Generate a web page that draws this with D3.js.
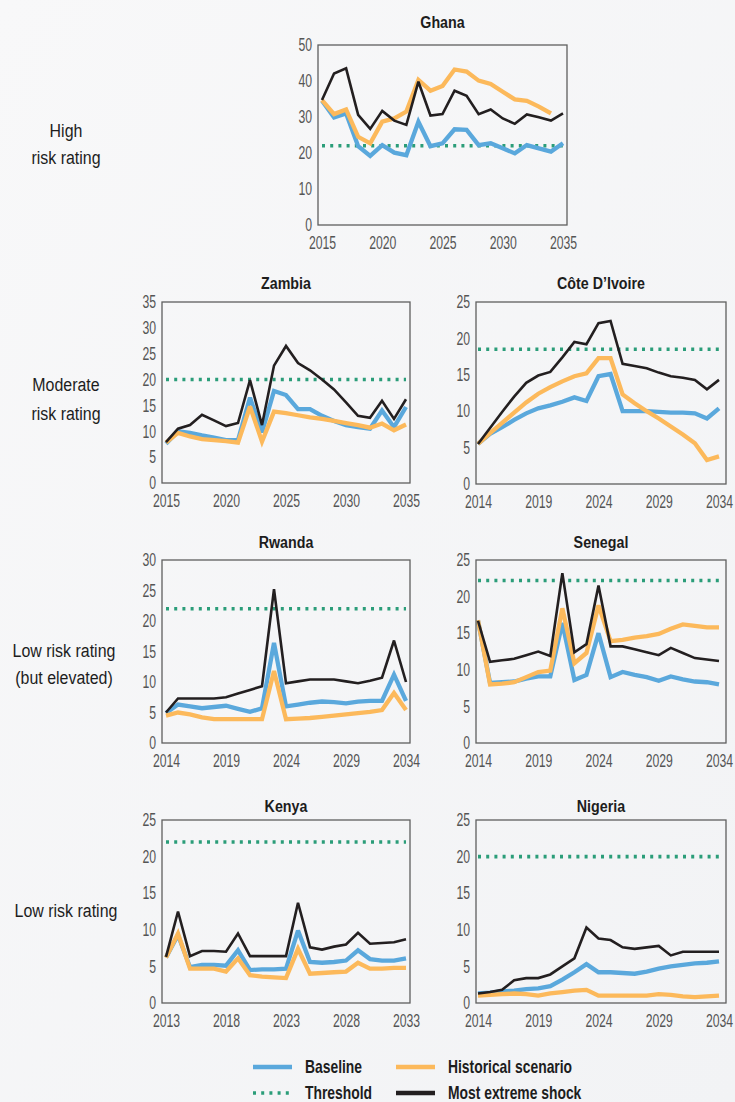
<!DOCTYPE html>
<html>
<head>
<meta charset="utf-8">
<script src="https://cdn.jsdelivr.net/npm/d3@7"></script>
<style>
  html, body { margin: 0; padding: 0; background: #f4f5f7; }
  svg { display: block; }
</style>
</head>
<body>
<script>
// ---------------- DATA ----------------
const ghanaYears = [2015,2016,2017,2018,2019,2020,2021,2022,2023,2024,2025,2026,2027,2028,2029,2030,2031,2032,2033,2034,2035];
const ghanaBaseline   = [34.5,29.9,31.0,21.9,19.2,22.2,20.1,19.4,28.7,21.9,22.7,26.6,26.4,22.2,22.7,21.3,19.9,22.2,21.3,20.4,22.7];
const ghanaHistorical = [34.7,30.8,32.1,24.5,22.7,28.7,29.6,31.5,40.3,37.3,38.6,43.2,42.6,40.1,39.2,37.0,34.9,34.5,32.9,31.0,null];
const ghanaShock      = [34.7,42.1,43.5,30.6,26.7,31.7,29.0,27.8,39.8,30.4,30.8,37.3,35.9,30.8,32.1,29.6,28.1,30.7,29.9,29.0,31.0];
const ghanaThreshold = 22;
const ghanaXTicks = [2015,2020,2025,2030,2035];
const ghanaYTicks = [0,10,20,30,40,50];

const zambiaYears = [2015,2016,2017,2018,2019,2020,2021,2022,2023,2024,2025,2026,2027,2028,2029,2030,2031,2032,2033,2034,2035];
const zambiaBaseline   = [7.6,10.0,9.7,9.2,8.8,8.3,8.3,16.5,9.8,17.8,17.0,14.3,14.3,13.0,12.0,11.2,10.8,10.5,14.0,10.8,14.7];
const zambiaHistorical = [7.8,9.7,9.0,8.5,8.3,8.1,7.8,14.8,8.0,13.8,13.5,13.1,12.7,12.4,12.0,11.6,11.2,10.7,11.5,10.2,11.3];
const zambiaShock      = [7.9,10.5,11.2,13.2,12.1,11.0,11.6,19.9,11.2,22.7,26.5,23.2,21.8,20.0,18.1,15.6,13.0,12.6,15.9,12.4,16.2];
const zambiaThreshold = 20;
const zambiaXTicks = [2015,2020,2025,2030,2035];
const zambiaYTicks = [0,5,10,15,20,25,30,35];

const cdiYears = [2014,2015,2016,2017,2018,2019,2020,2021,2022,2023,2024,2025,2026,2027,2028,2029,2030,2031,2032,2033,2034];
const cdiBaseline   = [5.5,6.9,7.8,8.8,9.7,10.4,10.8,11.3,11.9,11.4,14.8,15.1,10.0,10.0,10.0,9.9,9.8,9.8,9.7,9.0,10.4];
const cdiHistorical = [5.5,7.0,8.4,9.8,11.2,12.4,13.3,14.1,14.8,15.2,17.3,17.3,12.3,11.1,10.0,9.0,7.9,6.8,5.6,3.3,3.8];
const cdiShock      = [5.5,7.7,9.9,12.0,13.9,14.9,15.4,17.4,19.5,19.2,22.1,22.4,16.5,16.2,15.9,15.3,14.8,14.6,14.3,13.0,14.3];
const cdiThreshold = 18.5;
const cdiXTicks = [2014,2019,2024,2029,2034];
const cdiYTicks = [0,5,10,15,20,25];

const rwandaYears = [2014,2015,2016,2017,2018,2019,2020,2021,2022,2023,2024,2025,2026,2027,2028,2029,2030,2031,2032,2033,2034];
const rwandaBaseline   = [4.9,6.3,6.0,5.7,5.9,6.1,5.6,5.1,5.7,16.4,6.0,6.3,6.6,6.8,6.7,6.5,6.8,6.9,6.9,11.2,6.9];
const rwandaHistorical = [4.5,5.0,4.7,4.2,3.9,3.9,3.9,3.9,3.9,11.8,3.9,4.0,4.1,4.3,4.5,4.7,4.9,5.1,5.4,8.2,5.4];
const rwandaShock      = [5.0,7.3,7.3,7.3,7.3,7.5,8.1,8.7,9.3,25.2,9.8,10.1,10.4,10.4,10.4,10.1,9.8,10.2,10.7,16.8,10.0];
const rwandaThreshold = 22;
const rwandaXTicks = [2014,2019,2024,2029,2034];
const rwandaYTicks = [0,5,10,15,20,25,30];

const senegalYears = [2014,2015,2016,2017,2018,2019,2020,2021,2022,2023,2024,2025,2026,2027,2028,2029,2030,2031,2032,2033,2034];
const senegalBaseline   = [16.7,8.2,8.3,8.4,8.8,9.1,9.1,16.4,8.6,9.3,15.0,9.0,9.7,9.3,9.0,8.5,9.1,8.7,8.4,8.3,8.0];
const senegalHistorical = [16.8,8.0,8.1,8.3,9.0,9.7,9.9,18.4,10.9,12.3,18.8,13.9,14.1,14.4,14.6,14.9,15.6,16.2,16.0,15.8,15.8];
const senegalShock      = [16.7,11.1,11.3,11.5,12.0,12.5,11.9,23.2,12.4,13.5,21.5,13.2,13.2,12.8,12.4,12.0,13.0,12.3,11.6,11.4,11.2];
const senegalThreshold = 22.2;
const senegalXTicks = [2014,2019,2024,2029,2034];
const senegalYTicks = [0,5,10,15,20,25];

const kenyaYears = [2013,2014,2015,2016,2017,2018,2019,2020,2021,2022,2023,2024,2025,2026,2027,2028,2029,2030,2031,2032,2033];
const kenyaBaseline   = [6.2,9.3,4.9,5.2,5.2,5.1,7.2,4.5,4.6,4.6,4.7,9.9,5.6,5.5,5.6,5.8,7.2,6.0,5.8,5.8,6.1];
const kenyaHistorical = [6.2,9.5,4.7,4.7,4.7,4.3,6.1,3.8,3.6,3.5,3.4,7.4,4.0,4.1,4.2,4.3,5.5,4.7,4.7,4.8,4.8];
const kenyaShock      = [6.3,12.5,6.4,7.1,7.1,7.0,9.5,6.4,6.4,6.4,6.4,13.7,7.6,7.3,7.7,8.0,9.6,8.1,8.2,8.3,8.7];
const kenyaThreshold = 22;
const kenyaXTicks = [2013,2018,2023,2028,2033];
const kenyaYTicks = [0,5,10,15,20,25];

const nigeriaYears = [2014,2015,2016,2017,2018,2019,2020,2021,2022,2023,2024,2025,2026,2027,2028,2029,2030,2031,2032,2033,2034];
const nigeriaBaseline   = [1.3,1.4,1.6,1.7,1.9,2.0,2.3,3.2,4.2,5.3,4.2,4.2,4.1,4.0,4.3,4.7,5.0,5.2,5.4,5.5,5.7];
const nigeriaHistorical = [1.0,1.1,1.2,1.3,1.2,1.0,1.3,1.5,1.7,1.8,1.0,1.0,1.0,1.0,1.0,1.2,1.1,0.9,0.8,0.9,1.0];
const nigeriaShock      = [1.3,1.5,1.8,3.1,3.4,3.4,3.9,5.0,6.1,10.3,8.8,8.6,7.6,7.4,7.6,7.8,6.5,7.0,7.0,7.0,7.0];
const nigeriaThreshold = 20;
const nigeriaXTicks = [2014,2019,2024,2029,2034];
const nigeriaYTicks = [0,5,10,15,20,25];

const rowLabels = [["High","risk rating"],["Moderate","risk rating"],["Low risk rating","(but elevated)"],["Low risk rating"]];
const legendItems = ["Baseline","Historical scenario","Threshold","Most extreme shock"];

// ---------------- STYLE / LAYOUT ----------------
const W = 735, H = 1102;
const FONT = "'Liberation Sans', Arial, sans-serif";
const C = { base: "#5aa8dc", hist: "#fcb95b", shock: "#231f20", thr: "#2b9d79", box: "#5f5f5f", tick: "#555555", text: "#1d1d1d" };

const svg = d3.select("body").append("svg").attr("width", W).attr("height", H);
const bg = svg.append("defs").append("linearGradient").attr("id", "bg").attr("x1", 0).attr("y1", 0).attr("x2", 1).attr("y2", 1);
bg.append("stop").attr("offset", 0).attr("stop-color", "#f8f8f9");
bg.append("stop").attr("offset", 1).attr("stop-color", "#f2f3f5");
svg.append("rect").attr("width", W).attr("height", H).attr("fill", "url(#bg)");

// horizontally condense a text around its own anchor x
function squeeze(sel, sx) {
  sel.each(function () {
    const t = d3.select(this);
    const x0 = +t.attr("x") || 0;
    t.attr("transform", `translate(${x0},0) scale(${sx},1) translate(${-x0},0)`);
  });
}

const panels = [
  { title: "Ghana", years: ghanaYears, base: ghanaBaseline, hist: ghanaHistorical, shock: ghanaShock, thr: ghanaThreshold, xt: ghanaXTicks, yt: ghanaYTicks,
    box: { x: 318, y: 45, w: 249, h: 180 }, pad: [4, 4], titleY: 28 },
  { title: "Zambia", years: zambiaYears, base: zambiaBaseline, hist: zambiaHistorical, shock: zambiaShock, thr: zambiaThreshold, xt: zambiaXTicks, yt: zambiaYTicks,
    box: { x: 162, y: 302, w: 248, h: 181 }, pad: [4, 4], titleY: 289 },
  { title: "Côte D’Ivoire", years: cdiYears, base: cdiBaseline, hist: cdiHistorical, shock: cdiShock, thr: cdiThreshold, xt: cdiXTicks, yt: cdiYTicks,
    box: { x: 476, y: 302, w: 250, h: 182 }, pad: [2, 7], titleY: 289 },
  { title: "Rwanda", years: rwandaYears, base: rwandaBaseline, hist: rwandaHistorical, shock: rwandaShock, thr: rwandaThreshold, xt: rwandaXTicks, yt: rwandaYTicks,
    box: { x: 162, y: 560, w: 248, h: 183 }, pad: [4, 4], titleY: 548 },
  { title: "Senegal", years: senegalYears, base: senegalBaseline, hist: senegalHistorical, shock: senegalShock, thr: senegalThreshold, xt: senegalXTicks, yt: senegalYTicks,
    box: { x: 476, y: 560, w: 250, h: 183 }, pad: [2, 7], titleY: 548 },
  { title: "Kenya", years: kenyaYears, base: kenyaBaseline, hist: kenyaHistorical, shock: kenyaShock, thr: kenyaThreshold, xt: kenyaXTicks, yt: kenyaYTicks,
    box: { x: 162, y: 820, w: 248, h: 183 }, pad: [4, 4], titleY: 812 },
  { title: "Nigeria", years: nigeriaYears, base: nigeriaBaseline, hist: nigeriaHistorical, shock: nigeriaShock, thr: nigeriaThreshold, xt: nigeriaXTicks, yt: nigeriaYTicks,
    box: { x: 476, y: 820, w: 250, h: 183 }, pad: [2, 7], titleY: 812 }
];

function drawPanel(p) {
  const b = p.box;
  const x = d3.scaleLinear().domain(d3.extent(p.years)).range([b.x + p.pad[0], b.x + b.w - p.pad[1]]);
  const y = d3.scaleLinear().domain([0, d3.max(p.yt)]).range([b.y + b.h, b.y]);
  const g = svg.append("g");

  // title
  const tt = g.append("text").attr("x", b.x + b.w / 2).attr("y", p.titleY).attr("text-anchor", "middle")
    .attr("font-family", FONT).attr("font-weight", "bold").attr("font-size", 17).attr("fill", C.text).text(p.title);
  squeeze(tt, 0.84);

  // axes
  const ya = g.append("g").attr("transform", `translate(${b.x},0)`)
    .call(d3.axisLeft(y).tickValues(p.yt).tickSize(0).tickPadding(6).tickFormat(d3.format("d")));
  const xa = g.append("g").attr("transform", `translate(0,${b.y + b.h})`)
    .call(d3.axisBottom(x).tickValues(p.xt).tickSize(0).tickPadding(11).tickFormat(d3.format("d")));
  [ya, xa].forEach(a => {
    a.select(".domain").remove();
    a.selectAll("text").attr("font-family", FONT).attr("font-size", 18).attr("fill", C.tick);
    squeeze(a.selectAll("text"), 0.68);
  });

  // threshold
  const yrs = p.years;
  g.append("path")
    .attr("d", d3.line().x(d => x(d)).y(() => y(p.thr))([yrs[0], yrs[yrs.length - 1]]))
    .attr("fill", "none").attr("stroke", C.thr).attr("stroke-width", 3.6).attr("stroke-dasharray", "3,5.2");

  const line = d3.line().defined(d => d[1] != null).x(d => x(d[0])).y(d => y(d[1]));
  const series = [
    { v: p.base, c: C.base, w: 4.3 },
    { v: p.hist, c: C.hist, w: 4.3 },
    { v: p.shock, c: C.shock, w: 2.6 }
  ];
  series.forEach(s => {
    g.append("path").attr("d", line(yrs.map((yr, i) => [yr, s.v[i]])))
      .attr("fill", "none").attr("stroke", s.c).attr("stroke-width", s.w)
      .attr("stroke-linejoin", "miter").attr("stroke-miterlimit", 3);
  });

  // frame
  g.append("rect").attr("x", b.x).attr("y", b.y).attr("width", b.w).attr("height", b.h)
    .attr("fill", "none").attr("stroke", C.box).attr("stroke-width", 1.3);
}
panels.forEach(drawPanel);

// row labels
const rowPos = [{ x: 66, y: 137, dy: 27 }, { x: 66, y: 391, dy: 29 }, { x: 64, y: 657, dy: 27 }, { x: 66, y: 917, dy: 0 }];
rowLabels.forEach((lines, i) => {
  const p = rowPos[i];
  const t = svg.append("text").attr("x", p.x).attr("y", p.y).attr("text-anchor", "middle")
    .attr("font-family", FONT).attr("font-size", 19).attr("fill", C.text);
  lines.forEach((l, j) => t.append("tspan").attr("x", p.x).attr("dy", j === 0 ? 0 : p.dy).text(l));
  squeeze(t, 0.84);
});

// legend
const legPos = [{ x: 253, y: 1067 }, { x: 396, y: 1067 }, { x: 253, y: 1093 }, { x: 396, y: 1093 }];
const legStyle = [
  { c: C.base, w: 4.3, dash: null },
  { c: C.hist, w: 4.3, dash: null },
  { c: C.thr, w: 3.6, dash: "3,5.2" },
  { c: C.shock, w: 4.6, dash: null }
];
legendItems.forEach((name, i) => {
  const p = legPos[i], s = legStyle[i];
  svg.append("line").attr("x1", p.x).attr("x2", p.x + 39).attr("y1", p.y).attr("y2", p.y)
    .attr("stroke", s.c).attr("stroke-width", s.w).attr("stroke-dasharray", s.dash);
  const t = svg.append("text").attr("x", p.x + 52).attr("y", p.y + 6).attr("font-family", FONT)
    .attr("font-weight", "bold").attr("font-size", 18.5).attr("fill", C.text).text(name);
  squeeze(t, 0.75);
});
</script>
</body>
</html>
